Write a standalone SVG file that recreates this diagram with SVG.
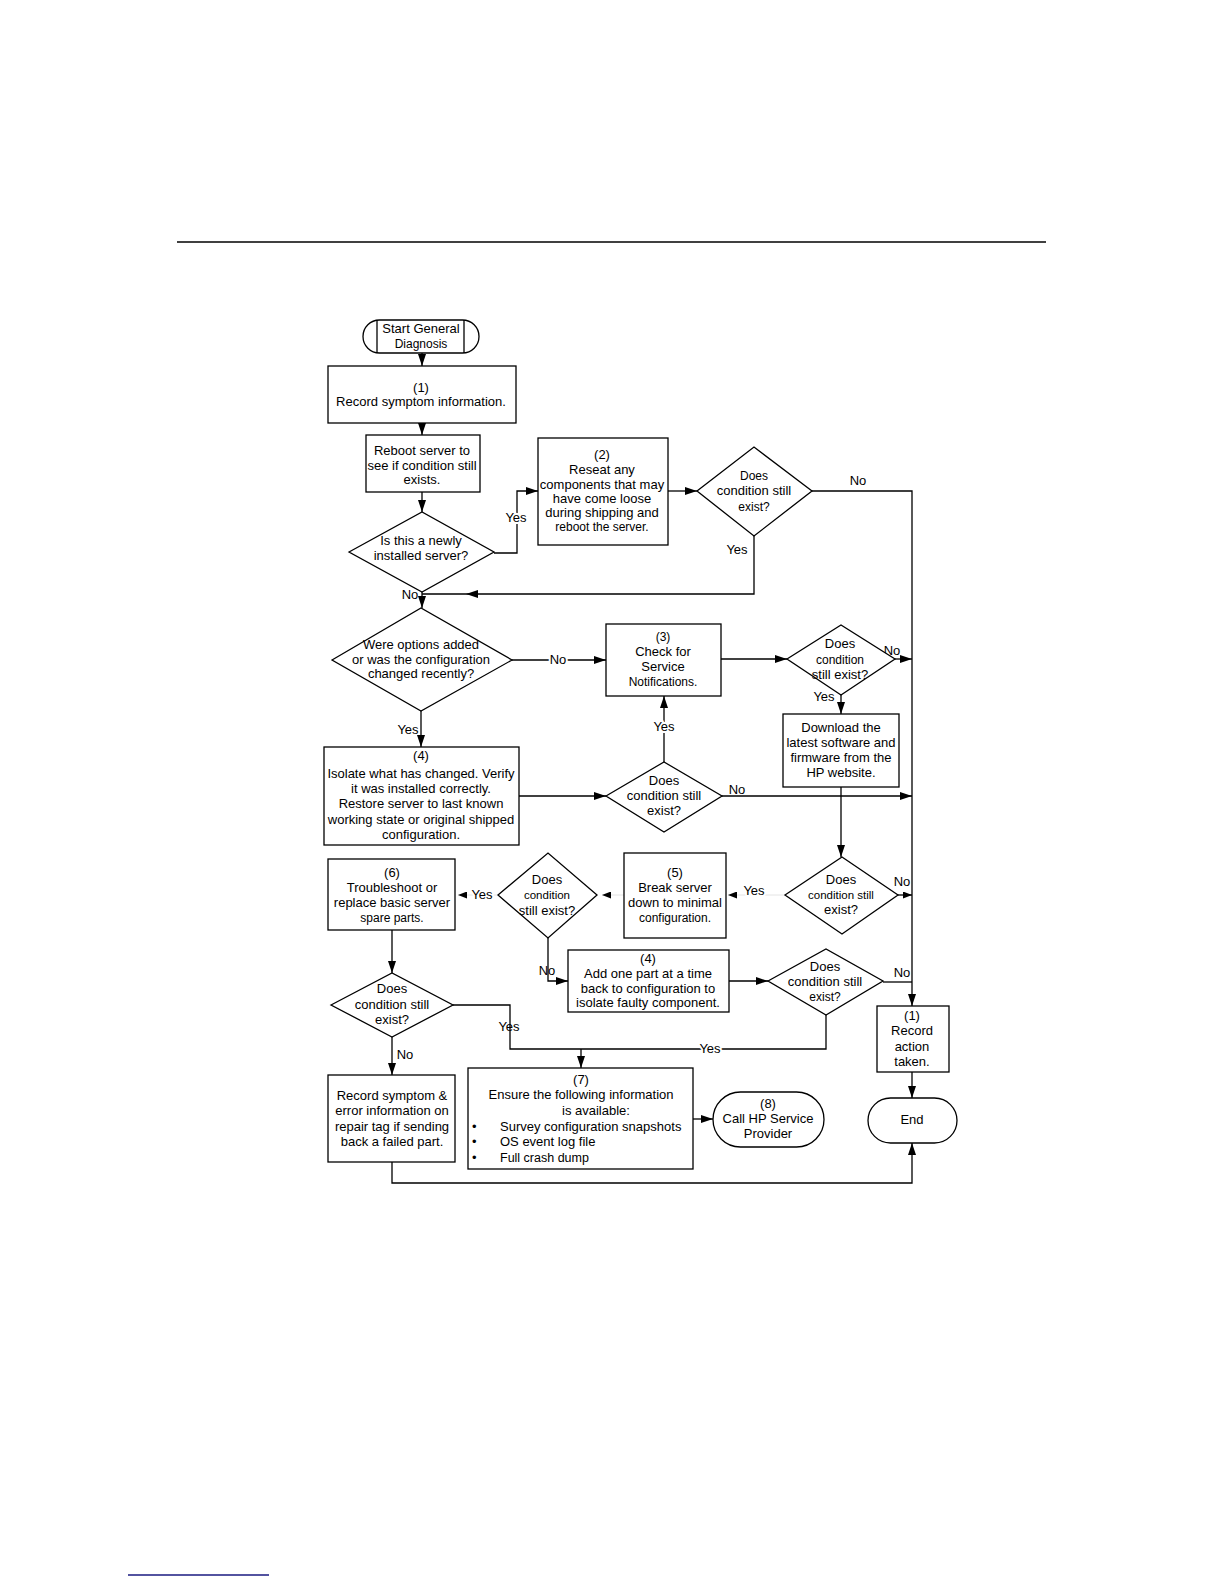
<svg xmlns="http://www.w3.org/2000/svg" width="1224" height="1584" viewBox="0 0 1224 1584">
<style>
  .bx{fill:#fff;stroke:#000;stroke-width:1.3}
  .ln{fill:none;stroke:#000;stroke-width:1.3}
  .fl{fill:none;stroke:#e4e4e4;stroke-width:1}
  text{font-family:"Liberation Sans",Arial,sans-serif;font-size:13px;fill:#000}
  .t{text-anchor:middle}
  .s{font-size:11.5px}
  .lbl{text-anchor:middle;stroke:#fff;stroke-width:4;paint-order:stroke;stroke-linejoin:round}
</style>
<defs>
  <marker id="ah" markerWidth="12" markerHeight="8" refX="12" refY="4" orient="auto" markerUnits="userSpaceOnUse">
    <path d="M0,0 L12,4 L0,8 z" fill="#000"/>
  </marker>
  <marker id="ahs" markerWidth="9" markerHeight="7" refX="9" refY="3.5" orient="auto" markerUnits="userSpaceOnUse">
    <path d="M0,0 L9,3.5 L0,7 z" fill="#000"/>
  </marker>
</defs>
<rect width="1224" height="1584" fill="#fff"/>
<line x1="177" y1="242" x2="1046" y2="242" stroke="#000" stroke-width="1.6"/>
<line x1="128" y1="1575" x2="269" y2="1575" stroke="#1a1a80" stroke-width="1.4"/>

<g id="connectors">
  <line class="ln" x1="422" y1="353" x2="422" y2="366" marker-end="url(#ah)"/>
  <line class="ln" x1="422" y1="423" x2="422" y2="435" marker-end="url(#ah)"/>
  <line class="ln" x1="422" y1="492" x2="422" y2="512" marker-end="url(#ah)"/>
  <path class="ln" d="M494,553 H517 V491 H538" marker-end="url(#ah)"/>
  <line class="ln" x1="668" y1="491" x2="697" y2="491" marker-end="url(#ah)"/>
  <path class="ln" d="M812,491 H912 V1006" marker-end="url(#ah)"/>
  <path class="ln" d="M754,536 V594 H422"/>
  <polygon points="466,594 478,590 478,598" fill="#000"/>
  <line class="ln" x1="422" y1="592" x2="422" y2="608" marker-end="url(#ah)"/>
  <line class="ln" x1="512" y1="660" x2="606" y2="660" marker-end="url(#ah)"/>
  <line class="ln" x1="421" y1="711" x2="421" y2="747" marker-end="url(#ah)"/>
  <line class="ln" x1="519" y1="796" x2="606" y2="796" marker-end="url(#ah)"/>
  <line class="ln" x1="664" y1="762" x2="664" y2="696" marker-end="url(#ah)"/>
  <line class="ln" x1="722" y1="796" x2="912" y2="796" marker-end="url(#ah)"/>
  <line class="ln" x1="721" y1="659" x2="787" y2="659" marker-end="url(#ah)"/>
  <line class="ln" x1="895" y1="659" x2="912" y2="659" marker-end="url(#ah)"/>
  <line class="ln" x1="841" y1="695" x2="841" y2="714" marker-end="url(#ah)"/>
  <line class="ln" x1="841" y1="787" x2="841" y2="857" marker-end="url(#ah)"/>
  <line class="ln" x1="898" y1="895" x2="912" y2="895" marker-end="url(#ahs)"/>
  <line class="fl" x1="785" y1="895" x2="728" y2="895" marker-end="url(#ahs)"/>
  <line class="fl" x1="624" y1="895" x2="602" y2="895" marker-end="url(#ahs)"/>
  <line class="fl" x1="498" y1="895" x2="458" y2="895" marker-end="url(#ahs)"/>
  <path class="ln" d="M548,938 V981 H568" marker-end="url(#ah)"/>
  <line class="ln" x1="729" y1="981" x2="768" y2="981" marker-end="url(#ah)"/>
  <line class="ln" x1="883" y1="982" x2="912" y2="982"/>
  <line class="ln" x1="392" y1="930" x2="392" y2="973" marker-end="url(#ah)"/>
  <path class="ln" d="M453,1005 H510 V1049 H826 V1015"/>
  <line class="ln" x1="581" y1="1049" x2="581" y2="1068" marker-end="url(#ah)"/>
  <line class="ln" x1="392" y1="1037" x2="392" y2="1075" marker-end="url(#ah)"/>
  <path class="ln" d="M392,1162 V1183 H912 V1143" marker-end="url(#ah)"/>
  <line class="ln" x1="693" y1="1119" x2="713" y2="1119" marker-end="url(#ah)"/>
  <line class="ln" x1="912" y1="1072" x2="912" y2="1098" marker-end="url(#ah)"/>

  <text class="lbl" x="516" y="522">Yes</text>
  <text class="t" x="858" y="485">No</text>
  <text class="t" x="737" y="554">Yes</text>
  <text class="t" x="410" y="599">No</text>
  <text class="lbl" x="558" y="664">No</text>
  <text class="t" x="408" y="734">Yes</text>
  <text class="lbl" x="664" y="731">Yes</text>
  <text class="t" x="892" y="655">No</text>
  <text class="t" x="824" y="701">Yes</text>
  <text class="t" x="737" y="794">No</text>
  <text class="lbl" x="754" y="895">Yes</text>
  <text class="lbl" x="482" y="899">Yes</text>
  <text class="t" x="902" y="886">No</text>
  <text class="t" x="902" y="977">No</text>
  <text class="t" x="547" y="975">No</text>
  <text class="t" x="509" y="1031">Yes</text>
  <text class="lbl" x="710" y="1053">Yes</text>
  <text class="t" x="405" y="1059">No</text>
</g>

<g id="start">
  <rect class="bx" x="363" y="320" width="116" height="33" rx="16.5"/>
  <line class="ln" x1="377" y1="320" x2="377" y2="353"/>
  <line class="ln" x1="464" y1="320" x2="464" y2="353"/>
  <text class="t" x="421" y="333">Start General</text>
  <text class="t" x="421" y="348" style="font-size:12px">Diagnosis</text>
</g>
<g id="n1">
  <rect class="bx" x="328" y="366" width="188" height="57"/>
  <text class="t" x="421" y="392">(1)</text>
  <text class="t" x="421" y="406">Record symptom information.</text>
</g>
<g id="reboot">
  <rect class="bx" x="366" y="435" width="114" height="57"/>
  <text class="t" x="422" y="455">Reboot server to</text>
  <text class="t" x="422" y="470">see if condition still</text>
  <text class="t" x="422" y="484">exists.</text>
</g>
<g id="newly">
  <polygon class="bx" points="349,552 422,512 494,552 422,592"/>
  <text class="t" x="421" y="545">Is this a newly</text>
  <text class="t" x="421" y="560">installed server?</text>
</g>
<g id="n2">
  <rect class="bx" x="538" y="438" width="130" height="107"/>
  <text class="t" x="602" y="459">(2)</text>
  <text class="t" x="602" y="474">Reseat any</text>
  <text class="t" x="602" y="489">components that may</text>
  <text class="t" x="602" y="503">have come loose</text>
  <text class="t" x="602" y="517">during shipping and</text>
  <text class="t" x="602" y="531" style="font-size:12px">reboot the server.</text>
</g>
<g id="d1">
  <polygon class="bx" points="697,491 754,447 812,491 754,536"/>
  <text class="t" x="754" y="480" style="font-size:12px">Does</text>
  <text class="t" x="754" y="495">condition still</text>
  <text class="t" x="754" y="511" style="font-size:12px">exist?</text>
</g>
<g id="options">
  <polygon class="bx" points="332,660 421,608 512,660 421,711"/>
  <text class="t" x="421" y="649">Were options added</text>
  <text class="t" x="421" y="664">or was the configuration</text>
  <text class="t" x="421" y="678">changed recently?</text>
</g>
<g id="n3">
  <rect class="bx" x="606" y="624" width="115" height="72"/>
  <text class="t" x="663" y="641" style="font-size:12px">(3)</text>
  <text class="t" x="663" y="656">Check for</text>
  <text class="t" x="663" y="671">Service</text>
  <text class="t" x="663" y="686" style="font-size:12px">Notifications.</text>
</g>
<g id="d2">
  <polygon class="bx" points="787,659 841,625 895,659 841,695"/>
  <text class="t" x="840" y="648">Does</text>
  <text class="t" x="840" y="664" style="font-size:12px">condition</text>
  <text class="t" x="840" y="679">still exist?</text>
</g>
<g id="download">
  <rect class="bx" x="783" y="714" width="116" height="73"/>
  <text class="t" x="841" y="732">Download the</text>
  <text class="t" x="841" y="747">latest software and</text>
  <text class="t" x="841" y="762">firmware from the</text>
  <text class="t" x="841" y="777">HP website.</text>
</g>
<g id="n4">
  <rect class="bx" x="324" y="747" width="195" height="98"/>
  <text class="t" x="421" y="760">(4)</text>
  <text class="t" x="421" y="778">Isolate what has changed. Verify</text>
  <text class="t" x="421" y="793">it was installed correctly.</text>
  <text class="t" x="421" y="808">Restore server to last known</text>
  <text class="t" x="421" y="824">working state or original shipped</text>
  <text class="t" x="421" y="839">configuration.</text>
</g>
<g id="d3">
  <polygon class="bx" points="606,796 664,762 722,796 664,832"/>
  <text class="t" x="664" y="785">Does</text>
  <text class="t" x="664" y="800">condition still</text>
  <text class="t" x="664" y="815">exist?</text>
</g>
<g id="d4">
  <polygon class="bx" points="785,895 842,857 898,895 842,934"/>
  <text class="t" x="841" y="884">Does</text>
  <text class="t s" x="841" y="899">condition still</text>
  <text class="t" x="841" y="914">exist?</text>
</g>
<g id="n5">
  <rect class="bx" x="624" y="853" width="102" height="85"/>
  <text class="t" x="675" y="877">(5)</text>
  <text class="t" x="675" y="892">Break server</text>
  <text class="t" x="675" y="907">down to minimal</text>
  <text class="t" x="675" y="922" style="font-size:12px">configuration.</text>
</g>
<g id="d5">
  <polygon class="bx" points="498,895 548,853 597,895 548,938"/>
  <text class="t" x="547" y="884">Does</text>
  <text class="t s" x="547" y="899">condition</text>
  <text class="t" x="547" y="915">still exist?</text>
</g>
<g id="n6">
  <rect class="bx" x="328" y="859" width="127" height="71"/>
  <text class="t" x="392" y="877">(6)</text>
  <text class="t" x="392" y="892">Troubleshoot or</text>
  <text class="t" x="392" y="907">replace basic server</text>
  <text class="t" x="392" y="922" style="font-size:12px">spare parts.</text>
</g>
<g id="n4b">
  <rect class="bx" x="568" y="950" width="161" height="62"/>
  <text class="t" x="648" y="963">(4)</text>
  <text class="t" x="648" y="978">Add one part at a time</text>
  <text class="t" x="648" y="993">back to configuration to</text>
  <text class="t" x="648" y="1007">isolate faulty component.</text>
</g>
<g id="d6">
  <polygon class="bx" points="768,981 826,949 883,981 826,1015"/>
  <text class="t" x="825" y="971">Does</text>
  <text class="t" x="825" y="986">condition still</text>
  <text class="t" x="825" y="1001" style="font-size:12px">exist?</text>
</g>
<g id="d7">
  <polygon class="bx" points="331,1005 392,973 453,1005 392,1037"/>
  <text class="t" x="392" y="993">Does</text>
  <text class="t" x="392" y="1009">condition still</text>
  <text class="t" x="392" y="1024">exist?</text>
</g>
<g id="record-action">
  <rect class="bx" x="877" y="1006" width="72" height="66"/>
  <text class="t" x="912" y="1020">(1)</text>
  <text class="t" x="912" y="1035">Record</text>
  <text class="t" x="912" y="1051">action</text>
  <text class="t" x="912" y="1066">taken.</text>
</g>
<g id="record-symptom">
  <rect class="bx" x="328" y="1075" width="127" height="87"/>
  <text class="t" x="392" y="1100">Record symptom &amp;</text>
  <text class="t" x="392" y="1115">error information on</text>
  <text class="t" x="392" y="1131">repair tag if sending</text>
  <text class="t" x="392" y="1146">back a failed part.</text>
</g>
<g id="n7">
  <rect class="bx" x="468" y="1068" width="225" height="101"/>
  <text class="t" x="581" y="1084">(7)</text>
  <text class="t" x="581" y="1099">Ensure the following information</text>
  <text x="562" y="1115">is available:</text>
  <text x="472" y="1131">•</text>
  <text x="500" y="1131">Survey configuration snapshots</text>
  <text x="472" y="1146">•</text>
  <text x="500" y="1146">OS event log file</text>
  <text x="472" y="1162">•</text>
  <text x="500" y="1162" style="font-size:12.5px">Full crash dump</text>
</g>
<g id="n8">
  <rect class="bx" x="713" y="1092" width="111" height="55" rx="27.5"/>
  <text class="t" x="768" y="1108">(8)</text>
  <text class="t" x="768" y="1123">Call HP Service</text>
  <text class="t" x="768" y="1138">Provider</text>
</g>
<g id="end">
  <rect class="bx" x="868" y="1098" width="89" height="45" rx="22.5"/>
  <text class="t" x="912" y="1124">End</text>
</g>
</svg>
